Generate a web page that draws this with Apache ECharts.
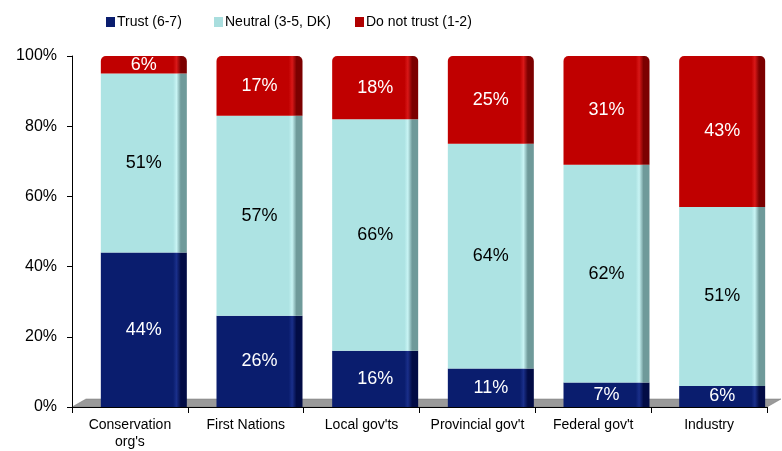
<!DOCTYPE html>
<html><head><meta charset="utf-8">
<script src="https://cdn.jsdelivr.net/npm/echarts@6/dist/echarts.min.js"></script>
<style>html,body{margin:0;padding:0;background:#fff}#c{width:782px;height:451px}</style>
</head><body><div id="c"></div>
<script>
const categories = ["Conservation\norg's", "First Nations", "Local gov'ts", "Provincial gov't", "Federal gov't", "Industry"];
const trust = [44, 26, 16, 11, 7, 6];
const neutral = [51, 57, 66, 64, 62, 51];
const distrust = [6, 17, 18, 25, 31, 43];
const yTicks = [0, 20, 40, 60, 80, 100];
const seriesNames = ['Trust (6-7)', 'Neutral (3-5, DK)', 'Do not trust (1-2)'];

const chart = echarts.init(document.getElementById('c'));
function grad(base, hi, dark) {
  return new echarts.graphic.LinearGradient(0, 0, 1, 0, [
    {offset: 0, color: base}, {offset: 0.84, color: base},
    {offset: 0.88, color: hi}, {offset: 0.93, color: dark}, {offset: 1, color: dark}
  ]);
}
const font = 'Liberation Sans, Arial, sans-serif';
const colors = ['#0a1d6e', '#a9dede', '#b00000'];
const G = {left: 72, right: 15, top: 56, bottom: 44};
const G2 = {left: 86, right: 2, top: 56, bottom: 44};
const legendLefts = [101, 209, 350];
chart.setOption({
  animation: false,
  textStyle: {fontFamily: font},
  legend: seriesNames.map((n, i) => ({
    top: 10, left: legendLefts[i], itemWidth: 9, itemHeight: 10, icon: 'rect',
    textStyle: {fontSize: 14, color: '#000', fontFamily: font, padding: [0, 0, 0, -3]},
    data: [{name: n, itemStyle: {color: colors[i]}}]
  })),
  grid: [Object.assign({containLabel: false}, G), Object.assign({containLabel: false}, G2)],
  xAxis: [
    {type: 'category', gridIndex: 0, data: categories, boundaryGap: true,
     axisLine: {lineStyle: {color: '#000', width: 1}},
     axisTick: {show: true, length: 6, alignWithLabel: false, lineStyle: {color: '#000'}},
     axisLabel: {fontSize: 14, color: '#000', margin: 10, lineHeight: 17, fontFamily: font, interval: 0}},
    {type: 'category', gridIndex: 1, data: categories, show: false}
  ],
  yAxis: [
    {type: 'value', gridIndex: 0, min: 0, max: 100, interval: 20,
     axisLine: {show: true, lineStyle: {color: '#000'}},
     axisTick: {show: true, length: 5, lineStyle: {color: '#000'}},
     splitLine: {show: false},
     axisLabel: {formatter: v => yTicks.includes(v) ? v + '%' : '', fontSize: 16, color: '#000', margin: 15, fontFamily: font}},
    {type: 'value', gridIndex: 1, min: 0, max: 100, show: false}
  ],
  series: [
    {name: seriesNames[0], type: 'bar', stack: 's', xAxisIndex: 1, yAxisIndex: 1, barWidth: 86, data: trust,
     itemStyle: {color: grad('#0a1d6e', '#1a2f8a', '#020c45')},
     label: {show: true, position: 'inside', formatter: '{c}%', color: '#fff', fontSize: 18, fontFamily: font}},
    {name: seriesNames[1], type: 'bar', stack: 's', xAxisIndex: 1, yAxisIndex: 1, barWidth: 86, data: neutral,
     itemStyle: {color: grad('#ade3e3', '#c8f4f4', '#6f9a9a')},
     label: {show: true, position: 'inside', formatter: '{c}%', color: '#000', fontSize: 18, fontFamily: font}},
    {name: seriesNames[2], type: 'bar', stack: 's', xAxisIndex: 1, yAxisIndex: 1, barWidth: 86, data: distrust,
     itemStyle: {color: grad('#c00000', '#d81818', '#7c0000'), borderRadius: [5, 5, 0, 0]},
     label: {show: true, position: 'inside', formatter: '{c}%', color: '#fff', fontSize: 18, fontFamily: font}}
  ]
});
// floor decoration
const x0 = G.left, x1 = 782 - G.right, y0 = 451 - G.bottom;
chart.setOption({graphic: [{
  type: 'polygon', z: -1, silent: true,
  shape: {points: [[x0, y0], [x0 + 14, y0 - 8], [x1 + 14, y0 - 8], [x1, y0]]},
  style: {fill: '#9a9a9a', stroke: '#777', lineWidth: 0.5}
}]});
</script></body></html>
